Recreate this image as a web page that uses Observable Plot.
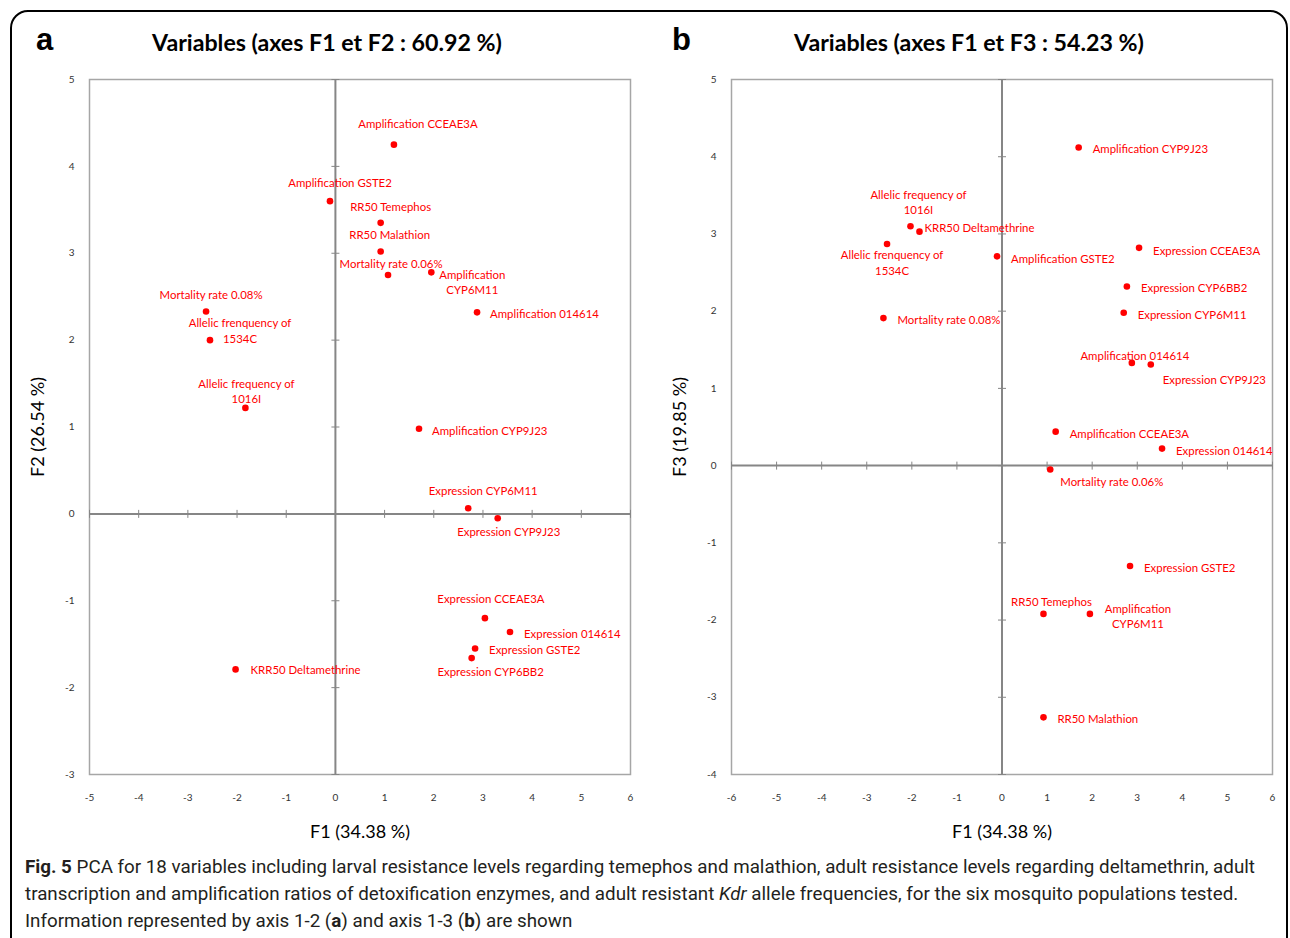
<!DOCTYPE html>
<html><head><meta charset="utf-8">
<script src="https://cdn.jsdelivr.net/npm/d3@7"></script>
<script src="https://cdn.jsdelivr.net/npm/@observablehq/plot@0.6"></script>
<style>
body{margin:0;background:#fff;}
#wrap{position:relative;width:1290px;height:938px;overflow:hidden;background:#fff;font-family:Lato,"Open Sans",sans-serif;}
#border{position:absolute;left:10px;top:10px;width:1278px;height:960px;border:2px solid #000;border-radius:18px;box-sizing:border-box;}
.letter{position:absolute;top:20px;font-family:"Liberation Sans",Arial,sans-serif;font-weight:bold;font-size:31px;line-height:40px;}
.title{position:absolute;top:26px;width:600px;text-align:center;font-family:Lato,sans-serif;font-weight:bold;font-size:23.2px;line-height:32px;color:#000;}
.panel{position:absolute;top:60px;}
#caption{position:absolute;left:25px;top:854px;width:1260px;font-family:Roboto,sans-serif;font-size:18.8px;line-height:27px;color:#231f20;white-space:nowrap;}
</style></head>
<body><div id="wrap">
<div id="border"></div>
<div class="letter" style="left:36px">a</div>
<div class="letter" style="left:672px">b</div>
<div class="title" style="left:27px">Variables (axes F1 et F2 : 60.92 %)</div>
<div class="title" style="left:669px">Variables (axes F1 et F3 : 54.23 %)</div>
<div id="pa" class="panel" style="left:0px"></div>
<div id="pb" class="panel" style="left:645px"></div>
<div id="caption"><b>Fig. 5</b> PCA for 18 variables including larval resistance levels regarding temephos and malathion, adult resistance levels regarding deltamethrin, adult<br>transcription and amplification ratios of detoxification enzymes, and adult resistant <i>Kdr</i> allele frequencies, for the six mosquito populations tested.<br>Information represented by axis 1-2 (<b>a</b>) and axis 1-3 (<b>b</b>) are shown</div>
</div>
<script>
const variables = [
  "Amplification CCEAE3A", "Amplification GSTE2", "RR50 Temephos", "RR50 Malathion",
  "Mortality rate 0.06%", "Amplification\nCYP6M11", "Mortality rate 0.08%", "Allelic frenquency of\n1534C",
  "Amplification 014614", "Allelic frequency of\n1016I", "Amplification CYP9J23", "Expression CYP6M11",
  "Expression CYP9J23", "Expression CCEAE3A", "Expression 014614", "Expression GSTE2",
  "Expression CYP6BB2", "KRR50 Deltamethrine"
];
const f1 = [1.19, -0.11, 0.92, 0.92, 1.07, 1.95, -2.63, -2.55, 2.88, -1.83, 1.70, 2.70, 3.30, 3.04, 3.55, 2.84, 2.77, -2.03];
const f2 = [4.25, 3.60, 3.35, 3.02, 2.75, 2.78, 2.33, 2.00, 2.32, 1.22, 0.98, 0.065, -0.05, -1.20, -1.36, -1.55, -1.66, -1.79];
const f3 = [0.44, 2.71, -1.92, -3.26, -0.05, -1.92, 1.91, 2.87, 1.33, 3.03, 4.12, 1.98, 1.31, 2.82, 0.22, -1.30, 2.32, 3.10];

const xTicksA = [-5, -4, -3, -2, -1, 0, 1, 2, 3, 4, 5, 6];
const yTicksA = [-3, -2, -1, 0, 1, 2, 3, 4, 5];
const xTicksB = [-6, -5, -4, -3, -2, -1, 0, 1, 2, 3, 4, 5, 6];
const yTicksB = [-4, -3, -2, -1, 0, 1, 2, 3, 4, 5];

// label placement (pixel offsets from the dot, anchor)
const placeA = [
  [24,-22,"middle"],[10,-19,"middle"],[10,-17,"middle"],[9,-17,"middle"],
  [3,-12,"middle"],[41,9,"middle"],[5,-17,"middle"],[30,-10,"middle"],
  [13,1,"start"],[1,-17,"middle"],[13,1,"start"],[15,-18,"middle"],
  [11,13,"middle"],[6,-20,"middle"],[14,1,"start"],[14,1,"start"],
  [19,13,"middle"],[15,0,"start"]
];
const placeB = [
  [14,1,"start"],[14,2,"start"],[8,-13,"middle"],[14,1,"start"],
  [10,12,"start"],[48,2,"middle"],[14,1,"start"],[5,18,"middle"],
  [3,-8,"middle"],[-1,-30,"middle"],[14,1,"start"],[14,1,"start"],
  [12,15,"start"],[14,2,"start"],[14,1,"start"],[14,1,"start"],
  [14,1,"start"],[14,1,"start"]
];

const rows = variables.map((name, i) => ({name, f1: f1[i], f2: f2[i], f3: f3[i]}));

const vtick = {draw(ctx, size){ const r = Math.sqrt(size/Math.PI); ctx.moveTo(0,-r); ctx.lineTo(0,r); }};
const htick = {draw(ctx, size){ const r = Math.sqrt(size/Math.PI); ctx.moveTo(-r,0); ctx.lineTo(r,0); }};

const RED = "#ff0000", AXIS = "#868686", FRAME = "#a6a6a6";
const labelFont = "Lato, 'Open Sans', sans-serif";

function panel({yKey, xTicks, yTicks, place, marginLeft, marginRight, yLabel}) {
  const labelMarks = rows.map((r, i) => Plot.text([r], {
    x: "f1", y: yKey, text: "name", dx: place[i][0], dy: place[i][1],
    textAnchor: place[i][2], fill: RED, fontSize: 11.4, lineHeight: 1.35, fontFamily: labelFont
  }));
  return Plot.plot({
    width: 645, height: 800,
    marginLeft, marginRight, marginTop: 19, marginBottom: 86,
    x: {domain: [xTicks[0], xTicks[xTicks.length-1]]},
    y: {domain: [yTicks[0], yTicks[yTicks.length-1]]},
    style: {fontFamily: labelFont, background: "transparent", overflow: "visible"},
    marks: [
      Plot.frame({stroke: FRAME, strokeWidth: 1.5}),
      Plot.ruleX([0], {stroke: AXIS, strokeWidth: 2}),
      Plot.ruleY([0], {stroke: AXIS, strokeWidth: 2}),
      Plot.dot(xTicks, {x: d => d, y: 0, symbol: vtick, r: 4, stroke: AXIS, strokeWidth: 1}),
      Plot.dot(yTicks, {x: 0, y: d => d, symbol: htick, r: 4, stroke: AXIS, strokeWidth: 1}),
      Plot.axisX(xTicks, {anchor: "bottom", tickSize: 0, tickPadding: 19, fontSize: 10, label: null, tickFormat: d => String(d), fill: "#333"}),
      Plot.axisY(yTicks, {anchor: "left", tickSize: 0, tickPadding: 15, fontSize: 10, label: null, tickFormat: d => String(d), fill: "#333"}),
      Plot.dot(rows, {x: "f1", y: yKey, r: 3.3, fill: RED}),
      ...labelMarks,
      Plot.text(["F1 (34.38 %)"], {frameAnchor: "bottom", dy: 58, lineAnchor: "middle", fontSize: 18, fill: "#000", fontFamily: labelFont}),
      Plot.text([yLabel], {frameAnchor: "left", dx: -51, rotate: -90, textAnchor: "middle", lineAnchor: "middle", fontSize: 18, fill: "#000", fontFamily: labelFont})
    ]
  });
}

document.getElementById("pa").append(panel({yKey: "f2", xTicks: xTicksA, yTicks: yTicksA, place: placeA, marginLeft: 89, marginRight: 15, yLabel: "F2 (26.54 %)"}));
document.getElementById("pb").append(panel({yKey: "f3", xTicks: xTicksB, yTicks: yTicksB, place: placeB, marginLeft: 86, marginRight: 18, yLabel: "F3 (19.85 %)"}));
</script>
</body></html>
